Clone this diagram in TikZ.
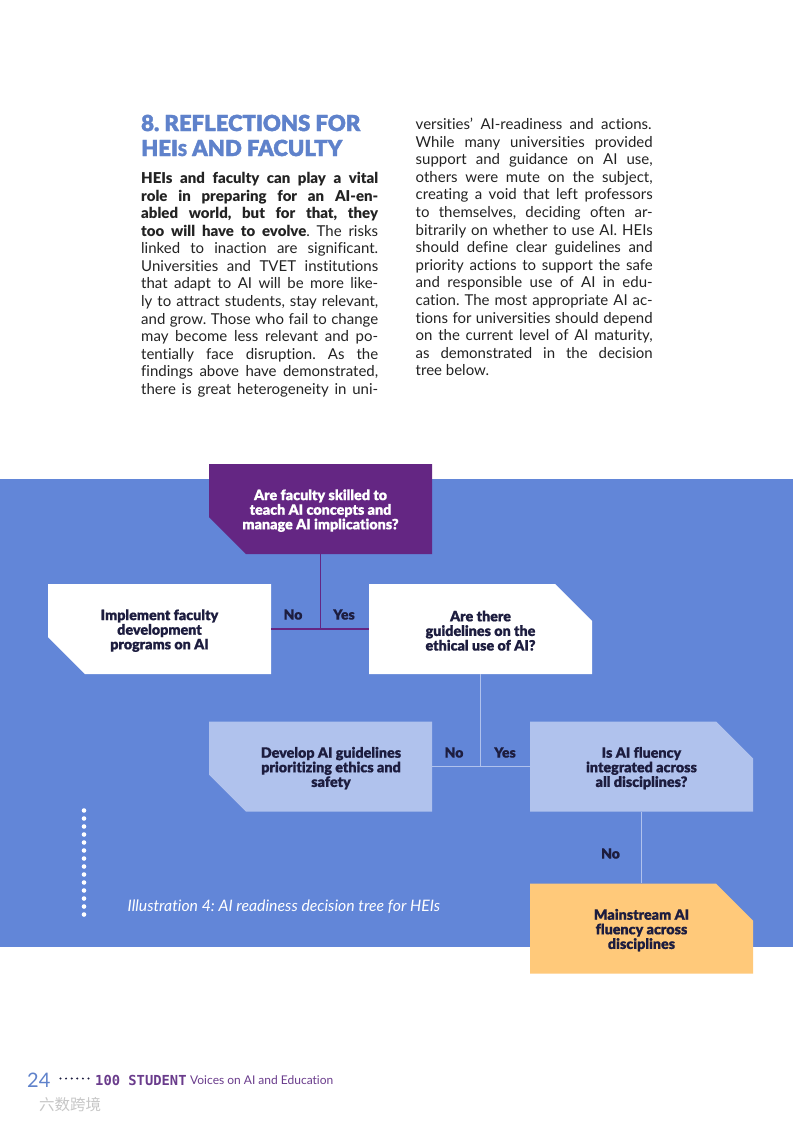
\documentclass[tikz,border=0pt]{standalone}
\usepackage{fontspec}
\setmainfont{Lato}[BoldFont={Lato Black},Ligatures=NoCommon]
\newfontfamily\heavyf{Lato Black}[FakeBold=1.6,Ligatures=NoCommon]
\newfontfamily\boxf{Lato Black}[FakeBold=0.6,Ligatures=NoCommon]
\newfontfamily\monof{DejaVu Sans Mono}[BoldFont={DejaVu Sans Mono Bold}]
\newfontfamily\cjkf{Noto Sans CJK SC}
\usetikzlibrary{shapes.misc}
\definecolor{bandblue}{HTML}{6286D8}
\definecolor{headblue}{HTML}{5F82CB}
\definecolor{deeppurple}{HTML}{642683}
\definecolor{lightblue}{HTML}{B0C2ED}
\definecolor{softyellow}{HTML}{FFC97A}
\definecolor{inkdark}{HTML}{1D1D3F}
\definecolor{bodyink}{HTML}{232323}
\definecolor{footpurple}{HTML}{6A3C8C}
\newlength{\colw}
\frenchspacing
\newcommand{\jl}[1]{\hbox to \colw{\spaceskip=.28em plus 1fil minus 1fil\relax #1}}
\newcommand{\tsh}{\leavevmode\\[-0.6pt]}
\tikzset{
  x=1pt,y=-1pt,
  dbox/.style={chamfered rectangle,chamfered rectangle xsep=18.5pt,chamfered rectangle ysep=18.5pt,
    chamfered rectangle corners=#1,draw=none,minimum width=223pt,minimum height=90pt,inner sep=0pt,
    align=center,font=\fontsize{14.3}{14.6}\boxf,text=inkdark},
  ans/.style={font=\fontsize{14}{15}\boxf,text=inkdark,inner sep=0pt},
  col/.style={anchor=north west,inner sep=0pt,align=left,text=bodyink,font=\fontsize{15}{17.58}\selectfont},
  purpleline/.style={draw=deeppurple,line width=1.8pt},
  paleline/.style={draw=lightblue,line width=1.8pt},
  wdot/.style={circle,fill=white,inner sep=0pt,minimum size=4.6pt},
  fdot/.style={circle,fill=inkdark,inner sep=0pt,minimum size=2.2pt},
}
\begin{document}
\begin{tikzpicture}
\useasboundingbox (0,0) rectangle (793,1121);
\fill[white] (0,0) rectangle (793,1121);
\fill[bandblue] (0,479) rectangle (793,947);
% heading
\node[anchor=west,inner sep=0pt,text=headblue] (h1) at (141,123) {\fontsize{22.1}{25}\heavyf 8. REFLECTIONS FOR};
\node[anchor=west,inner sep=0pt,text=headblue] (h2) at (141,148) {\fontsize{22.1}{25}\heavyf HEI{\fontsize{16.5}{25}\selectfont S} AND FACULTY};
% columns
\setlength{\colw}{237pt}
\node[col] (c1) at (141,172) {%
\jl{\textbf{HEIs and faculty can play a vital}}\\
\jl{\textbf{role in preparing for an AI-en-}}\\
\jl{\textbf{abled world, but for that, they}}\\
\jl{\textbf{too will have to evolve}. The risks}\\
\jl{linked to inaction are significant.}\\
\jl{Universities and TVET institutions}\\
\jl{that adapt to AI will be more like-}\\
\jl{ly to attract students, stay relevant,}\\
\jl{and grow. Those who fail to change}\\
\jl{may become less relevant and po-}\\
\jl{tentially face disruption. As the}\\
\jl{findings above have demonstrated,}\\
\jl{there is great heterogeneity in uni-}};
\node[col] (c2) at (415.5,118) {%
\setlength{\colw}{236pt}%
\jl{versities’ AI-readiness and actions.}\\
\jl{While many universities provided}\\
\jl{support and guidance on AI use,}\\
\jl{others were mute on the subject,}\\
\jl{creating a void that left professors}\\
\jl{to themselves, deciding often ar-}\\
\jl{bitrarily on whether to use AI. HEIs}\\
\jl{should define clear guidelines and}\\
\jl{priority actions to support the safe}\\
\jl{and responsible use of AI in edu-}\\
\jl{cation. The most appropriate AI ac-}\\
\jl{tions for universities should depend}\\
\jl{on the current level of AI maturity,}\\
\jl{as demonstrated in the decision}\\
tree below.};
% decision nodes
\node[dbox=south west,fill=deeppurple,text=white] (n1) at (320.5,509) {\tsh Are faculty skilled to\\teach AI concepts and\\manage AI implications?};
\node[dbox=south west,fill=white] (n2) at (159.5,629) {\tsh Implement faculty\\development\\programs on AI};
\node[dbox=north east,fill=white] (n3) at (480.5,629) {\tsh Are there\\guidelines on the\\ethical use of AI?};
\node[dbox=south west,fill=lightblue] (n4) at (320.5,766.5) {\hspace*{21pt}\parbox{165pt}{\centering\baselineskip=14.6pt \tsh Develop AI guidelines\\prioritizing ethics and\\safety}};
\node[dbox=north east,fill=lightblue] (n5) at (641.5,766.5) {\tsh Is AI fluency\\integrated across\\all disciplines?};
\node[dbox=north east,fill=softyellow] (n6) at (641.5,928.5) {\tsh Mainstream AI\\fluency across\\disciplines};
% connectors
\coordinate (j1) at (n1.south |- n2.east);
\coordinate (j2) at (n3.south |- n4.east);
\draw[purpleline] (n1.south) -- (j1);
\draw[purpleline] (n2.east) -- (n3.west);
\draw[paleline] (n3.south) -- (j2);
\draw[paleline] (n4.east) -- (n5.west);
\draw[paleline] (n5.south) -- (n6.north);
% answers
\node[ans] (a1) at (293,614.5) {No};
\node[ans] (a2) at (344,614.5) {Yes};
\node[ans] (a3) at (454,752.5) {No};
\node[ans] (a4) at (505,752.5) {Yes};
\node[ans] (a5) at (610.5,853.5) {No};
% caption
\node[anchor=west,inner sep=0pt,text=white] (cap) at (127.5,907) {\fontsize{15.8}{17}\selectfont\itshape Illustration 4: AI readiness decision tree for HEIs};
\foreach \i in {0,...,13} {\node[wdot] (d\i) at (84,810.5+8*\i) {};}
% footer
\node[anchor=west,inner sep=0pt,text=headblue] (pg) at (27,1080) {\fontsize{20}{22}\selectfont 24};
\foreach \i in {0,...,5} {\node[fdot] (f\i) at (60.5+5.6*\i,1078.5) {};}
\node[anchor=west,inner sep=0pt,text=footpurple] (ft1) at (95,1080) {\fontsize{13.8}{15}\selectfont\monof\bfseries 100 STUDENT};
\node[anchor=west,inner sep=0pt,text=footpurple] (ft2) at (190,1080.5) {\fontsize{12}{14}\selectfont Voices on AI and Education};
\node[anchor=west,inner sep=0pt,text=black!22] (wm) at (39,1105) {\fontsize{15.5}{16}\selectfont\cjkf 六数跨境};
\end{tikzpicture}
\end{document}
